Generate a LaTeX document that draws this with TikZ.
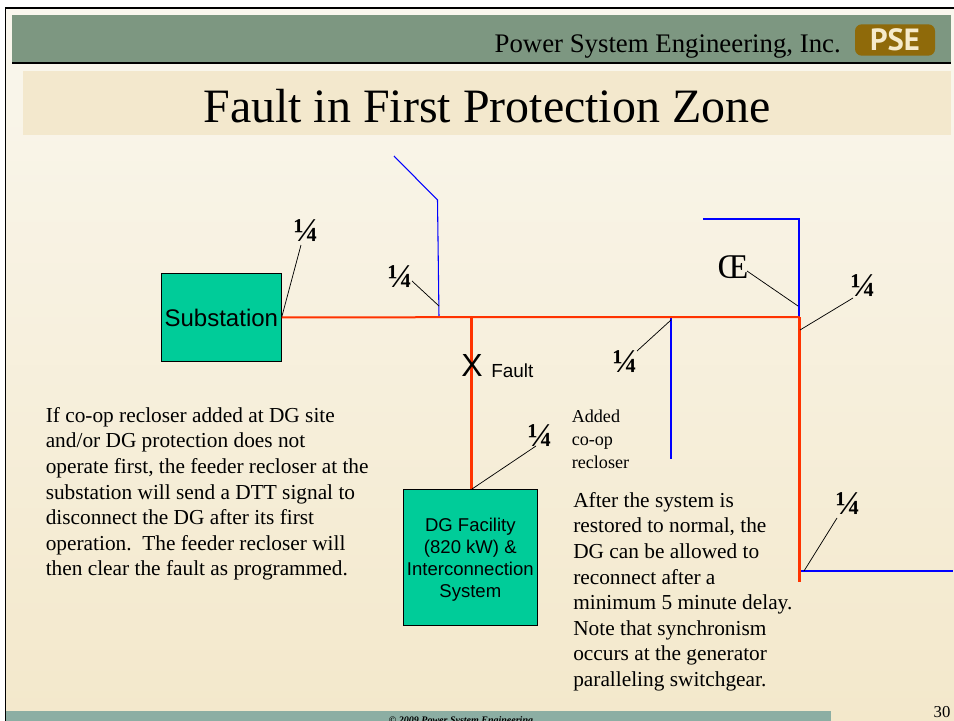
\documentclass[tikz,border=0pt]{standalone}
\usepackage{fontspec}
\setmainfont{Liberation Serif}
\newfontfamily\arialf{Liberation Sans}
\newfontfamily\logof{PT Sans}
\definecolor{hdr}{HTML}{7D9781}
\definecolor{ttl}{HTML}{F3E8CD}
\definecolor{bgtop}{HTML}{FAF7EE}
\definecolor{bgbot}{HTML}{F3E8CB}
\definecolor{foot}{HTML}{8CAEA3}
\definecolor{box}{HTML}{00CC99}
\definecolor{feeder}{HTML}{FF3300}
\definecolor{lateral}{HTML}{0000FF}
\definecolor{logo}{HTML}{8F6A0A}
\definecolor{logot}{HTML}{F6EBCB}
\tikzset{
 x=0.75pt,y=-0.75pt,
 greenbox/.style={draw=black,line width=0.5pt,fill=box,inner sep=0pt,align=center},
 feederh/.style={draw=feeder,line width=1.5pt},
 feederv/.style={draw=feeder,line width=2.25pt},
 latthin/.style={draw=lateral,line width=0.8pt},
 latthick/.style={draw=lateral,line width=1.5pt},
 leader/.style={draw=black,line width=0.55pt},
 sym/.style={inner sep=0pt,font=\fontsize{25}{25}\selectfont\bfseries},
 para/.style={inner sep=0pt,anchor=north west,align=left,font=\fontsize{16}{19.2}\selectfont},
}
\begin{document}
\begin{tikzpicture}
\useasboundingbox (0,0) rectangle (954,721);
\fill[white] (0,0) rectangle (954,721);
\shade[top color=bgtop,bottom color=bgbot] (6,8) rectangle (954,721);
\fill[black] (4.5,7) rectangle (954,8.5);
\fill[black] (4.5,7) rectangle (6,721);
\fill[hdr] (12,15) rectangle (951,62);
\fill[black] (12,62) rectangle (951,64);
\fill[ttl] (23,71) rectangle (951,135);
\begin{scope}
\clip (0,0) rectangle (954,721);
\fill[foot] (6,711) rectangle (831,721);
\node[inner sep=0pt,anchor=base] (copy) at (461,723) {\fontsize{7.5}{10}\selectfont\bfseries\itshape © 2009 Power System Engineering};
\end{scope}
\node[inner sep=0pt,anchor=base] (page) at (942,717) {\fontsize{12.5}{14}\selectfont 30};
\node[inner sep=0pt,anchor=base east] (company) at (841,52.5) {\fontsize{20.1}{22}\selectfont Power System Engineering, Inc.};
\node[fill=logo,rounded corners=5pt,minimum width=60pt,minimum height=23.5pt,inner sep=0pt,text=logot] (pse) at (895,40) {\logof\fontsize{23}{23}\selectfont\bfseries PSE};
\node[inner sep=0pt,anchor=base] (title) at (487,122) {\fontsize{35.95}{40}\selectfont Fault in First Protection Zone};

\coordinate (busR) at (799.5,317);
\coordinate (jLat1) at (439,317);
\coordinate (jDG) at (471.5,317);
\coordinate (jLat2) at (671,317);
\coordinate (busEnd) at (799.5,582);
\coordinate (lat1a) at (437.5,200);
\coordinate (lat1b) at (394,156);
\coordinate (lat2end) at (671,459);
\coordinate (lat3o) at (799,317);
\coordinate (lat3a) at (799,219);
\coordinate (lat3b) at (703,219);
\coordinate (lat4a) at (800,571);
\coordinate (lat4b) at (953,571);

\node[greenbox,minimum width=90pt,minimum height=66pt,anchor=north west] (sub) at (161,273) {\arialf\fontsize{18}{20}\selectfont\rule{0pt}{14.5pt}Substation};
\node[greenbox,minimum width=100.5pt,minimum height=102pt,anchor=north west,font=\arialf\fontsize{13.9}{16.5}\selectfont] (dg) at (403,489) {\rule{0pt}{13.3pt}DG Facility\\(820 kW) \&\\Interconnection\\System};

\draw[latthin] (jLat1) -- (lat1a) -- (lat1b);
\draw[latthick] (jLat2) -- (lat2end);
\draw[latthick] (lat3o) -- (lat3a) -- (lat3b);
\draw[latthick] (lat4a) -- (lat4b);
\draw[feederh] (sub.east) -- (busR);
\draw[feederv] (jDG) -- (dg.north -| jDG);
\draw[feederv] (busR) -- (busEnd);

\node[sym] (s1) at (306,231) {¼};
\node[sym] (s2) at (400,277) {¼};
\node[sym] (s3) at (625,362) {¼};
\node[sym] (s4) at (863,286) {¼};
\node[sym] (s5) at (540,436) {¼};
\node[sym] (s6) at (848,504) {¼};
\node[inner sep=0pt] (oe) at (733,267) {\fontsize{26}{26}\selectfont Œ};

\coordinate (l1a) at (301,245);
\coordinate (l2a) at (412,281);
\coordinate (l2b) at (439,306);
\coordinate (l3a) at (637,351);
\coordinate (l3b) at (671,320);
\coordinate (l4a) at (853,298);
\coordinate (l4b) at (800,330);
\coordinate (l5a) at (536,446);
\coordinate (l5b) at (472,489);
\coordinate (l6a) at (837,518);
\coordinate (l6b) at (804,571);
\coordinate (l7a) at (747,271);
\coordinate (l7b) at (798,306);
\draw[leader] (l1a) -- (sub.east);
\draw[leader] (l2a) -- (l2b);
\draw[leader] (l3a) -- (l3b);
\draw[leader] (l4a) -- (l4b);
\draw[leader] (l5a) -- (l5b);
\draw[leader] (l6a) -- (l6b);
\draw[leader] (l7a) -- (l7b);

\node[inner sep=0pt] (x) at (472,365.5) {\arialf\fontsize{24}{24}\selectfont X};
\node[inner sep=0pt,anchor=base west] (fault) at (491,377) {\arialf\fontsize{14.2}{14}\selectfont Fault};

\node[para] (left) at (45.5,407) {If co-op recloser added at DG site\\and/or DG protection does not\\operate first, the feeder recloser at the\\substation will send a DTT signal to\\disconnect the DG after its first\\operation.\ \ The feeder recloser will\\then clear the fault as programmed.};
\node[para,font=\fontsize{13.6}{17.2}\selectfont] (added) at (571.5,410) {Added\\co-op\\recloser};
\node[para] (right) at (573,492) {After the system is\\restored to normal, the\\DG can be allowed to\\reconnect after a\\minimum 5 minute delay.\\Note that synchronism\\occurs at the generator\\paralleling switchgear.};
\end{tikzpicture}
\end{document}
